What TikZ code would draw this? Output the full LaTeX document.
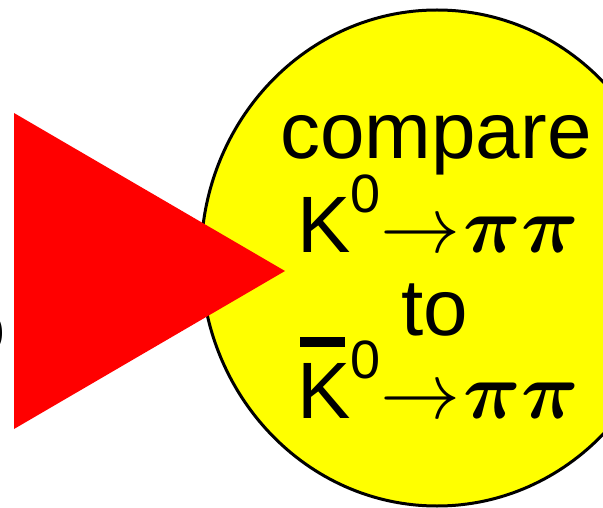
\documentclass[tikz,border=0pt]{standalone}
\usepackage{fix-cm}
\usepackage{fontspec}
\setmainfont{Liberation Sans}
\usepackage{tikz}
\definecolor{bubble}{HTML}{FFFF00}
\definecolor{wedge}{HTML}{FF0000}
\newcommand{\supz}{\raisebox{40pt}{\fontsize{54}{54}\selectfont 0}}
\newcommand{\kbar}{\makebox[0pt][l]{\hspace{3pt}\raisebox{71pt}{\rule{45pt}{10pt}}}K}
\newcommand{\topipi}{$\mathord{\rightarrow}\kern3pt\boldsymbol{\pi\pi}$}
\usepackage{amsmath}

\begin{document}
\begin{tikzpicture}[x=1pt,y=-1pt,lbl/.style={inner sep=0pt,font=\fontsize{80}{80}\selectfont}]
\useasboundingbox (0,0) rectangle (603,508);
\clip (0,0) rectangle (603,508);
\draw[line width=3pt,fill=bubble] (437,258) ellipse [x radius=236,y radius=248];
\fill[wedge] (14,113) -- (285,271) -- (14,429) -- cycle;
\node[inner sep=0pt,font=\fontsize{72}{72}\selectfont,anchor=base east] (cut) at (6,352) {o};
\node[lbl,anchor=base] (cmp) at (436,159) {compare};
\node[lbl,anchor=base] (kpp) at (438,252) {K\supz\topipi};
\node[lbl,anchor=base] (to) at (435,335) {to};
\node[lbl,anchor=base] (kbpp) at (438,418) {\kbar\supz\topipi};
\end{tikzpicture}
\end{document}
